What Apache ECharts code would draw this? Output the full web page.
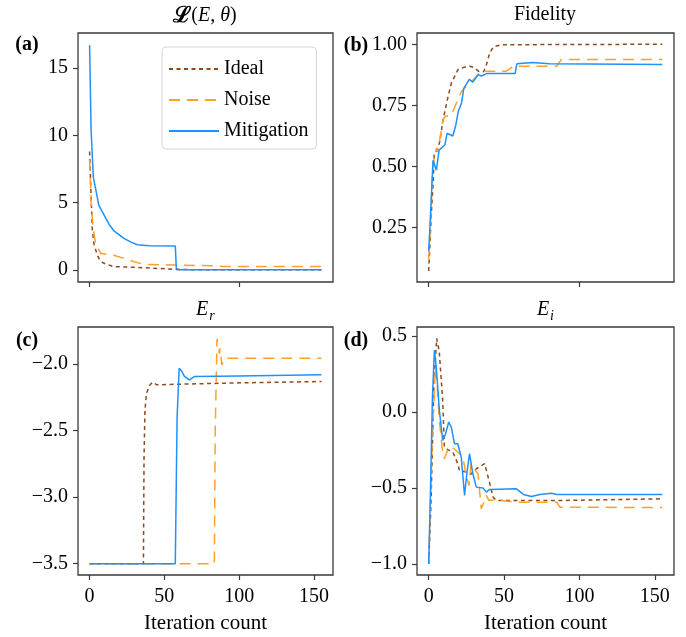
<!DOCTYPE html>
<html><head><meta charset="utf-8">
<script src="https://cdn.jsdelivr.net/npm/echarts@6/dist/echarts.min.js"></script>
<style>html,body{margin:0;padding:0;background:#fff}#c{width:686px;height:637px}</style>
</head><body><div id="c"></div>
<script>
// ---- data: [iteration, value] ----
var seriesNames = ['Ideal', 'Noise', 'Mitigation'];
var xTicks = [0, 50, 100, 150];
var xTicksTop = [0, 100];

var lossIdeal = [[0,8.8],[1,5.5],[1.8,3.0],[3,1.9],[5.2,1.1],[7,0.7],[9.6,0.5],[16,0.25],[30,0.2],[45,0.12],[56,0.05],[70,0.02],[155,0.02]];
var lossNoise = [[0,8.2],[1.1,4.7],[2.5,3.0],[4,2.0],[7.4,1.24],[16,1.1],[22,0.9],[30,0.62],[36,0.42],[56,0.37],[83,0.32],[89,0.27],[155,0.27]];
var lossMitig = [[0,16.7],[1,10.4],[2.5,6.9],[6.2,4.8],[9.6,4.1],[13,3.4],[16.3,2.9],[23,2.35],[28,2.05],[32,1.88],[40,1.8],[57.3,1.78],[58,0.1],[60,0.02],[155,0.02]];

var fidIdeal = [[0,0.073],[1.6,0.29],[3,0.44],[3.6,0.55],[5,0.56],[7.3,0.6],[9.5,0.69],[12.9,0.787],[15.1,0.842],[19.5,0.897],[23,0.905],[27.3,0.91],[30,0.905],[33,0.89],[36.5,0.888],[38.5,0.92],[40.5,0.965],[43,0.99],[48,0.998],[155,1.0]];
var fidNoise = [[0,0.12],[1.5,0.3],[2.4,0.47],[3.5,0.53],[5.1,0.575],[6,0.56],[7.3,0.61],[9.5,0.69],[11,0.705],[15,0.71],[18.4,0.76],[21.8,0.808],[25,0.828],[28,0.845],[31.8,0.87],[34,0.89],[51.5,0.89],[56,0.91],[85,0.91],[88,0.938],[155,0.938]];
var fidMitig = [[0,0.155],[0.7,0.237],[2.9,0.526],[4,0.533],[5.1,0.485],[6.9,0.567],[10.7,0.588],[12.2,0.636],[16,0.625],[18,0.67],[19.6,0.725],[21.8,0.76],[23.3,0.82],[26.9,0.856],[29.3,0.845],[32.9,0.876],[35,0.87],[38.4,0.88],[57.3,0.88],[58.5,0.92],[69,0.925],[80,0.92],[155,0.917]];

var erIdeal = [[0,-3.5],[36,-3.5],[36.4,-2.7],[37,-2.35],[38,-2.22],[40,-2.16],[42,-2.135],[45,-2.155],[60,-2.15],[100,-2.14],[155,-2.13]];
var erNoise = [[0,-3.5],[83.4,-3.5],[84,-2.5],[85.2,-1.81],[86,-1.86],[86.8,-1.92],[87.3,-1.88],[88.4,-2.005],[90.6,-1.955],[155,-1.955]];
var erMitig = [[0,-3.5],[57.3,-3.5],[58.5,-2.4],[59.9,-2.03],[61.5,-2.05],[63.3,-2.09],[66.7,-2.118],[70,-2.093],[100,-2.088],[155,-2.08]];

var eiIdeal = [[0,-1.0],[1.6,-0.583],[3.5,0.2],[5.3,0.485],[7,0.4],[9.3,0.077],[10.4,-0.231],[13,-0.25],[16,-0.264],[19.3,-0.34],[20.4,-0.385],[24.9,-0.396],[28,-0.41],[31.6,-0.374],[37.1,-0.34],[40,-0.45],[42.7,-0.561],[44.9,-0.583],[87,-0.583],[155,-0.572]];
var eiNoise = [[0,-1.0],[2,-0.3],[4.4,0.297],[5.5,0.2],[7,-0.05],[8.9,-0.231],[10.4,-0.308],[13.3,-0.231],[16,-0.235],[19.3,-0.264],[22.7,-0.297],[24.5,-0.4],[26.7,-0.484],[28.2,-0.34],[30.5,-0.38],[32.7,-0.407],[34.9,-0.638],[36.5,-0.6],[38.2,-0.55],[40,-0.583],[43.8,-0.579],[58,-0.594],[85,-0.594],[87,-0.627],[155,-0.63]];
var eiMitig = [[0,-1.0],[1,-0.6],[2.5,0.1],[3.8,0.407],[5,0.3],[7.1,0.01],[9.3,-0.187],[11,-0.15],[13.3,-0.066],[15,-0.1],[17.1,-0.209],[19.3,-0.209],[21.6,-0.297],[23.8,-0.55],[25.3,-0.407],[27.1,-0.275],[29.3,-0.407],[31.6,-0.495],[36,-0.5],[38.2,-0.528],[40.4,-0.51],[58.2,-0.506],[62.9,-0.543],[68.2,-0.557],[73.8,-0.543],[81.5,-0.535],[85,-0.543],[155,-0.543]];

var yTicksA = [0, 5, 10, 15];
var yTicksB = [0.25, 0.5, 0.75, 1.0];
var yTicksC = [-3.5, -3.0, -2.5, -2.0];
var yTicksD = [-1.0, -0.5, 0.0, 0.5];

// ---- styles ----
var FONT = '"Liberation Serif", "Times New Roman", serif';
var FRAME = '#3a3a3a';
var colors = ['#8e4a1c', '#ffa028', '#2090ff'];
var dashes = [[4, 3.5], [11, 7], 'solid'];

var grids = [
  {left: 78, top: 33, width: 255, height: 249},
  {left: 417, top: 33, width: 257, height: 249},
  {left: 78, top: 327, width: 255, height: 248},
  {left: 417, top: 327, width: 257, height: 248}
];
grids.forEach(function (g) { g.show = true; g.borderColor = FRAME; g.borderWidth = 1.3; g.backgroundColor = 'transparent'; });

function minusFmt(d) {
  return function (v) { return v.toFixed(d).replace('-', '\u2212'); };
}

function xAxis(i, bottom) {
  return {
    type: 'value', gridIndex: i, min: -7.75, max: 162.75,
    splitLine: {show: false},
    axisLine: {show: false, onZero: false},
    axisTick: {show: true, length: 5, customValues: bottom ? xTicks : xTicksTop, lineStyle: {color: FRAME, width: 1.2}},
    axisLabel: {show: bottom, customValues: xTicks, margin: 12, fontFamily: FONT, fontSize: 20, color: '#000'},
    name: bottom ? 'Iteration count' : '', nameLocation: 'middle', nameGap: 38,
    nameTextStyle: {fontFamily: FONT, fontSize: 21, color: '#000'}
  };
}
function yAxis(i, min, max, ticks, fmt) {
  return {
    type: 'value', gridIndex: i, min: min, max: max,
    splitLine: {show: false},
    axisLine: {show: false, onZero: false},
    axisTick: {show: true, length: 5, customValues: ticks, lineStyle: {color: FRAME, width: 1.2}},
    axisLabel: {customValues: ticks, formatter: fmt, margin: 10, fontFamily: FONT, fontSize: 20, color: '#000'}
  };
}

var panelData = [
  [lossIdeal, lossNoise, lossMitig],
  [fidIdeal, fidNoise, fidMitig],
  [erIdeal, erNoise, erMitig],
  [eiIdeal, eiNoise, eiMitig]
];
var series = [];
panelData.forEach(function (set, p) {
  set.forEach(function (d, k) {
    series.push({
      type: 'line', name: seriesNames[k], xAxisIndex: p, yAxisIndex: p,
      data: d, symbol: 'none', animation: false, silent: true, z: 2 + k,
      lineStyle: {color: colors[k], width: 1.5, type: dashes[k]},
      itemStyle: {color: colors[k]}
    });
  });
});

function txt(x, y, text, font, extra) {
  var s = {text: text, font: font, fill: '#000', textAlign: 'center', textVerticalAlign: 'middle'};
  if (extra) for (var k in extra) s[k] = extra[k];
  return {type: 'text', x: x, y: y, style: s, silent: true};
}

var option = {
  backgroundColor: '#fff',
  animation: false,
  grid: grids,
  xAxis: [xAxis(0, false), xAxis(1, false), xAxis(2, true), xAxis(3, true)],
  yAxis: [
    yAxis(0, -0.89, 17.6, yTicksA, function (v) { return String(v); }),
    yAxis(1, 0.028, 1.046, yTicksB, function (v) { return v.toFixed(2); }),
    yAxis(2, -3.585, -1.72, yTicksC, minusFmt(1)),
    yAxis(3, -1.074, 0.56, yTicksD, minusFmt(1))
  ],
  legend: {
    data: seriesNames, orient: 'vertical', left: 162, top: 47,
    padding: [12, 8, 8, 6], itemGap: 11, itemWidth: 50, itemHeight: 14,
    itemStyle: {opacity: 0},
    backgroundColor: 'rgba(255,255,255,0.8)', borderColor: '#d6d6d6', borderWidth: 1, borderRadius: 4,
    textStyle: {fontFamily: FONT, fontSize: 20, color: '#000'},
    selectedMode: false
  },
  graphic: [
    {
      type: 'text', x: 205, y: 16, silent: true,
      style: {
        text: '{L|\u2112}{n|(}{i|E}{n|, }{i|\u03b8}{n|)}',
        textAlign: 'center', textVerticalAlign: 'middle', fill: '#000',
        rich: {
          L: {fontFamily: FONT, fontSize: 22, fontWeight: 'bold'},
          n: {fontFamily: FONT, fontSize: 20},
          i: {fontFamily: FONT, fontSize: 20, fontStyle: 'italic'}
        }
      }
    },
    txt(545, 15, 'Fidelity', '20px ' + FONT),
    txt(202, 310, 'E', 'italic 20px ' + FONT),
    txt(212, 316, 'r', 'italic 14px ' + FONT),
    txt(543, 310, 'E', 'italic 20px ' + FONT),
    txt(552, 316, 'i', 'italic 14px ' + FONT),
    txt(27, 45, '(a)', 'bold 20px ' + FONT),
    txt(356, 46, '(b)', 'bold 20px ' + FONT),
    txt(27, 341, '(c)', 'bold 20px ' + FONT),
    txt(356, 341, '(d)', 'bold 20px ' + FONT)
  ],
  series: series
};

var chart = echarts.init(document.getElementById('c'), null, {renderer: 'canvas'});
chart.setOption(option);
</script>
</body></html>
